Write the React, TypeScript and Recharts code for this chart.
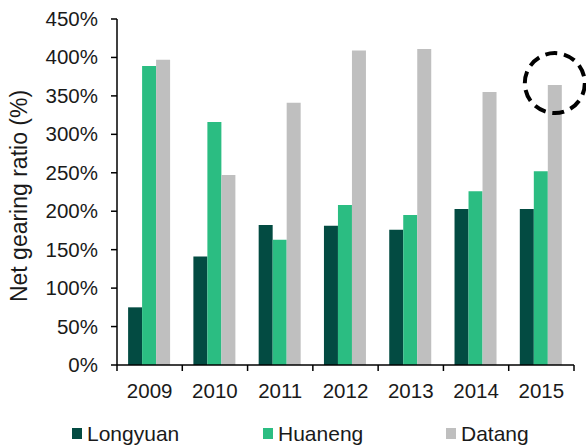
import React from 'react';
import { BarChart, Bar, XAxis, YAxis, LabelList } from 'recharts';

const years = ['2009', '2010', '2011', '2012', '2013', '2014', '2015'];
const longyuan = [75, 141, 182, 181, 176, 203, 203];
const huaneng = [389, 316, 163, 208, 195, 226, 252];
const datang = [397, 247, 341, 409, 411, 355, 364];
const yTicks = [0, 50, 100, 150, 200, 250, 300, 350, 400, 450];
const seriesNames = ['Longyuan', 'Huaneng', 'Datang'];
const seriesColors = ['#034b42', '#2bbd82', '#bfbfbf'];

const data = years.map((y, i) => ({
  year: y,
  Longyuan: longyuan[i],
  Huaneng: huaneng[i],
  Datang: datang[i],
}));

const W = 586;
const H = 446;
const M = { top: 19, right: 12, left: 0, bottom: 0 };
const YW = 117;
const XH = 81;
const FONT = '"Liberation Sans", Arial, sans-serif';
const band = (W - M.left - M.right - YW) / years.length;

const XTick = (props: any) => {
  const { x, y, index, payload } = props;
  const left = x - band / 2;
  return (
    <g>
      <line x1={left} x2={left} y1={y} y2={y + 6} stroke="#000" strokeWidth={1.5} />
      {index === years.length - 1 && (
        <line x1={x + band / 2} x2={x + band / 2} y1={y} y2={y + 6} stroke="#000" strokeWidth={1.5} />
      )}
      <text x={x} y={y + 33} textAnchor="middle" fontSize={20.5} fontFamily={FONT} fill="#1a1a1a">
        {payload.value}
      </text>
    </g>
  );
};

const YTick = (props: any) => {
  const { x, y, payload } = props;
  return (
    <text x={x} y={y + 7} textAnchor="end" fontSize={20.5} fontFamily={FONT} fill="#1a1a1a">
      {payload.value + '%'}
    </text>
  );
};

const YLabel = (props: any) => {
  const vb = props.viewBox || {};
  const cy = vb.y + vb.height / 2 + 4;
  const cx = 27;
  return (
    <text
      x={cx}
      y={cy}
      transform={`rotate(-90, ${cx}, ${cy})`}
      textAnchor="middle"
      fontSize={23}
      fontFamily={FONT}
      fill="#1a1a1a"
    >
      Net gearing ratio (%)
    </text>
  );
};

const Circle = (props: any) => {
  const { x, y, width, index } = props;
  if (index !== years.length - 1) return null;
  return (
    <circle
      cx={x + width / 2}
      cy={y - 2}
      r={30}
      fill="none"
      stroke="#000"
      strokeWidth={4}
      strokeDasharray="12 6.8"
    />
  );
};

const legendX = [72, 263, 446];

export default function App() {
  return (
    <div style={{ position: 'absolute', left: 0, top: 0, width: W, height: H, background: '#fff' }}>
      <BarChart width={W} height={H} data={data} margin={M} barCategoryGap="17%" barGap={0}>
        <XAxis
          dataKey="year"
          height={XH}
          tickLine={false}
          tickSize={0}
          tickMargin={0}
          axisLine={{ stroke: '#000', strokeWidth: 1.5 }}
          tick={<XTick />}
          interval={0}
        />
        <YAxis
          width={YW}
          domain={[0, 450]}
          ticks={yTicks}
          tickSize={6}
          tickMargin={13}
          tickLine={{ stroke: '#000', strokeWidth: 1.5 }}
          axisLine={{ stroke: '#000', strokeWidth: 1.5 }}
          tick={<YTick />}
          label={<YLabel />}
          interval={0}
        />
        {seriesNames.map((n, i) => (
          <Bar key={n} dataKey={n} fill={seriesColors[i]} isAnimationActive={false}>
            {n === 'Datang' && <LabelList dataKey={n} content={<Circle />} />}
          </Bar>
        ))}
      </BarChart>
      <svg width={W} height={H} style={{ position: 'absolute', left: 0, top: 0, pointerEvents: 'none' }}>
        {seriesNames.map((n, i) => (
          <g key={n}>
            <rect x={legendX[i]} y={428} width={10} height={11} fill={seriesColors[i]} />
            <text x={legendX[i] + 15} y={441} fontSize={21} fontFamily={FONT} fill="#1a1a1a">
              {n}
            </text>
          </g>
        ))}
      </svg>
    </div>
  );
}
